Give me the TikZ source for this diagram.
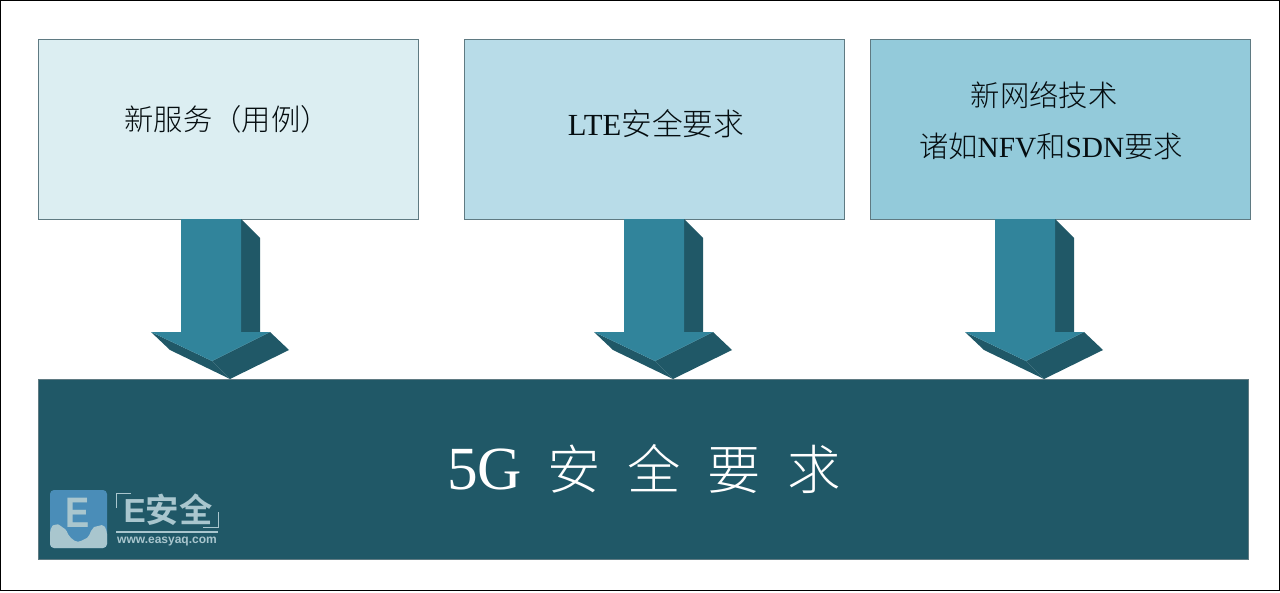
\documentclass[tikz,border=0pt]{standalone}
\usepackage{fontspec}
\setmainfont{Liberation Serif}
\newfontfamily\cjk[UprightFont={* Light},BoldFont={* Bold}]{Noto Sans CJK SC}
\newfontfamily\lsans{Liberation Sans}
\usetikzlibrary{calc}
\definecolor{boxa}{HTML}{DCEEF2}
\definecolor{boxb}{HTML}{B8DCE8}
\definecolor{boxc}{HTML}{93CADA}
\definecolor{arrowface}{HTML}{31849B}
\definecolor{arrowdark}{HTML}{205867}
\definecolor{boxedge}{HTML}{5F7A82}
\definecolor{logoblue}{HTML}{4A8DB8}
\definecolor{logolight}{HTML}{A9C6CE}
\tikzset{
  x=0.75pt,y=-0.75pt,
  reqbox/.style={draw=boxedge,line width=0.7pt,minimum width=285pt,minimum height=135pt,inner sep=0pt,outer sep=0pt},
  label/.style={text=black!85!arrowdark,font=\fontsize{22}{26}\selectfont,inner sep=0pt},
  face/.style={fill=arrowface,draw=none},
  side/.style={fill=arrowdark,draw=none},
}
\newcommand{\blockarrow}[1]{%
  \begin{scope}[shift={(#1)}]
    \fill[side] (30,0) -- (49,19) -- (49,113) -- (30,113) -- cycle;
    \fill[side] (-60,113) -- (-41,131) -- (19,160) -- (1,142) -- cycle;
    \fill[side] (1,142) -- (59,113) -- (78,131) -- (19,160) -- cycle;
    \fill[face] (-30,0) -- (30,0) -- (30,113) -- (59,113) -- (1,142) -- (-60,113) -- (-30,113) -- cycle;
  \end{scope}}
\begin{document}
\begin{tikzpicture}
\useasboundingbox (0,0) rectangle (1280,592);
\fill[white] (0,0) rectangle (1280,592);
\draw[black,line width=0.9pt] (0.7,0.7) rectangle (1279.3,590.5);

\node[reqbox,fill=boxa,anchor=north west] (boxA) at (38,39) {};
\node[reqbox,fill=boxb,anchor=north west] (boxB) at (464,39) {};
\node[reqbox,fill=boxc,anchor=north west] (boxC) at (870,39) {};
\node[draw=boxedge,line width=0.7pt,fill=arrowdark,anchor=north west,minimum width=907.5pt,minimum height=135pt,inner sep=0pt,outer sep=0pt] (base) at (38,379) {};

\coordinate (arrowA) at ($(boxA.south)+(-17,0)$);
\coordinate (arrowB) at ($(boxB.south)+(0,0)$);
\coordinate (arrowC) at ($(boxC.south)+(-35,0)$);
\blockarrow{arrowA}
\blockarrow{arrowB}
\blockarrow{arrowC}

\node[label] (tA) at (227,119) {\cjk 新服务（用例）};
\node[label] (tB) at (656,124) {\fontsize{23}{26}\selectfont LTE\cjk 安全要求};
\node[label] (tC1) at (1044,95) {\cjk 新网络技术};
\node[label] (tC2) at (1051,146) {\cjk 诸如\rmfamily NFV\cjk 和\rmfamily SDN\cjk 要求};
\node[text=white,font=\fontsize{40}{46}\selectfont,inner sep=0pt] (tBase) at (644,469) {{\fontsize{46}{46}\selectfont 5G}\hspace{19pt}\cjk 安\hspace{20pt}全\hspace{20pt}要\hspace{20pt}求};

% watermark logo
\fill[logoblue,rounded corners=3pt] (50,490) rectangle (107,548);
\fill[logolight,rounded corners=3pt] (50,548) -- (50,529) .. controls (53,525) and (58,524) .. (62,527) .. controls (65,529) and (67,532) .. (68,535) .. controls (71,538) and (75,541) .. (78,543) .. controls (81,541) and (87,538) .. (90,535) .. controls (91,531) and (94,527) .. (98,526) .. controls (102,525) and (105,527) .. (107,530) -- (107,548) -- cycle;
\node[text=logolight,xscale=0.85,font=\lsans\bfseries\fontsize{32}{32}\selectfont,inner sep=0pt] (logoE) at (78,513) {E};
\draw[logolight,line width=0.6pt] (116,508) -- (116,493) -- (131,493);
\draw[logolight,line width=0.6pt] (218,512) -- (218,527) -- (203,527);
\draw[logolight,line width=0.8pt] (116,532) -- (218,532);
\node[text=logolight,font=\fontsize{25}{25}\selectfont,inner sep=0pt] (logoName) at (168,510) {\lsans\bfseries E\cjk\bfseries 安全};
\node[text=logolight,font=\lsans\bfseries\fontsize{9}{9}\selectfont,inner sep=0pt] (logoUrl) at (167,542) {www.easyaq.com};
\end{tikzpicture}
\end{document}
